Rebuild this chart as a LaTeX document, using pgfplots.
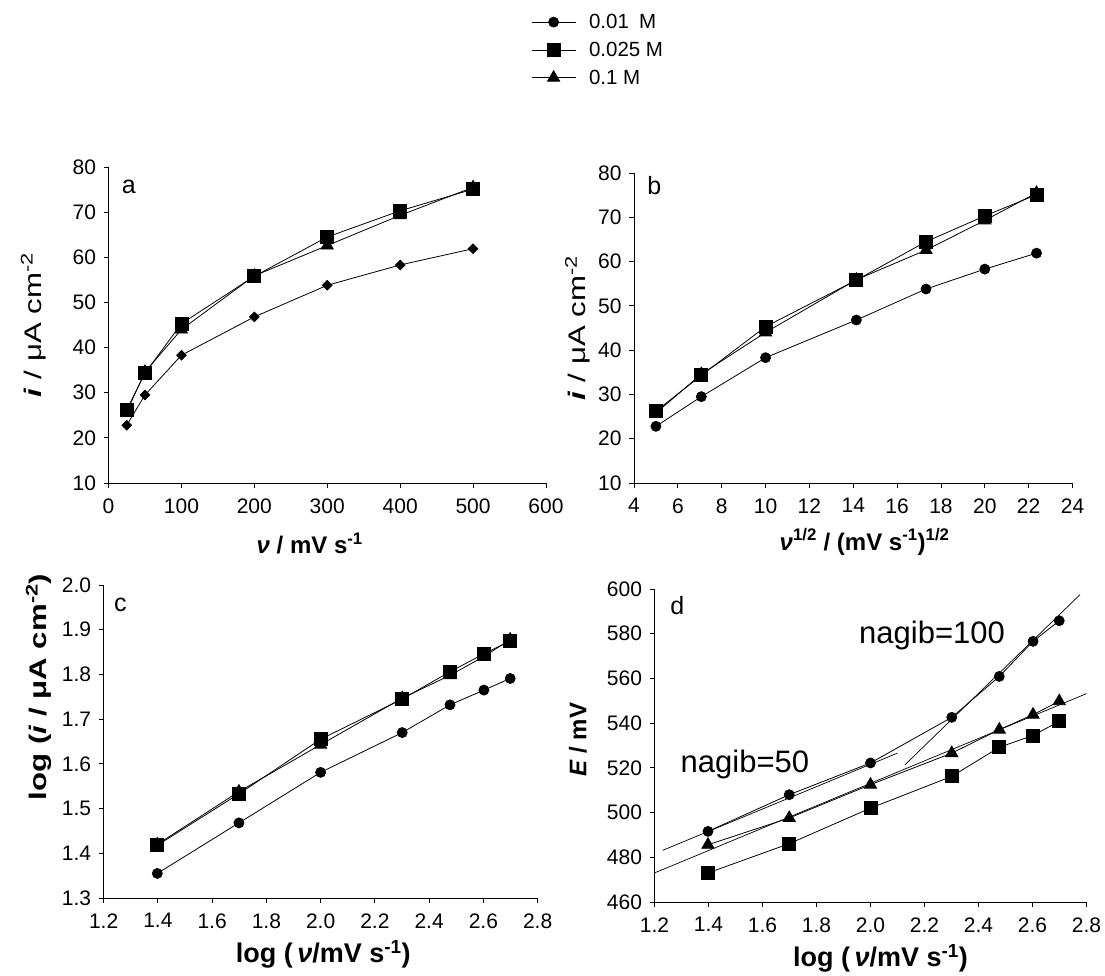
\documentclass[border=0pt]{standalone}
\usepackage{pgfplots}
\pgfplotsset{compat=1.18}
\usepackage{fontspec}
\setmainfont{Liberation Sans}
\newfontfamily\ylabfont[FakeStretch=1.3]{Liberation Sans}

\pgfplotsset{
  panel/.style={
    scale only axis,
    anchor=south west,
    axis x line*=bottom, axis y line*=left,
    axis line style={-, line width=0.8pt},
    tick align=outside,
    major tick length=5pt,
    tick style={black, line width=0.8pt},
    /pgf/number format/assume math mode=true,
    ticklabel style={font=\fontsize{21}{24}\selectfont},
    xticklabel style={yshift=-7pt},
    yticklabel style={xshift=-4pt},
    every axis plot/.append style={black, line width=0.8pt},
    clip=false,
  },
  sA/.style={mark=*, mark size=5pt},
  sAd/.style={mark=square*, mark size=3.4pt, mark options={rotate=45}},
  sB/.style={mark=square*, mark size=6.5pt},
  sC/.style={mark=triangle*, mark size=7pt},
  fitline/.style={no marks, line width=0.7pt},
}
\tikzset{letter/.style={font=\fontsize{25}{28}\selectfont, anchor=west, inner sep=0pt}}

\begin{document}
\begin{tikzpicture}
\useasboundingbox (0,0) rectangle (1105pt,-976pt);

% ---------- panel a ----------
\begin{axis}[panel,
  at={(108.5pt,-483pt)}, width=437.5pt, height=316pt,
  xmin=0, xmax=600, ymin=10, ymax=80,
  xtick={0,100,...,600}, ytick={10,20,...,80},
  xlabel={\textit{ν} / mV s\textsuperscript{-1}},
  ylabel={\textbf{\textit{i}} / μA cm\textsuperscript{-2}},
  xlabel style={font=\fontsize{24}{28}\selectfont\bfseries, at={(axis description cs:0.46,-0.19)}, anchor=center},
  ylabel style={font=\ylabfont\fontsize{24}{28}\selectfont, at={(axis description cs:-0.171,0.5)}, anchor=center},
]
\addplot[sAd] coordinates {(25,22.8)(50,29.5)(100,38.3)(200,46.8)(300,53.8)(400,58.3)(500,61.9)};
\addplot[sB] coordinates {(25,26.2)(50,34.3)(100,45.3)(200,55.8)(300,64.5)(400,70.3)(500,75.1)};
\addplot[sC] coordinates {(25,25.8)(50,34.6)(100,44.0)(200,55.9)(300,62.6)(400,69.3)(500,75.5)};
\node[letter] at (rel axis cs:0.03,0.937) {a};
\end{axis}

% ---------- panel b ----------
\begin{axis}[panel,
  at={(634pt,-483pt)}, width=438.5pt, height=310pt,
  xmin=4, xmax=24, ymin=10, ymax=80,
  xtick={4,6,...,24}, ytick={10,20,...,80},
  xlabel={\textit{ν}\textsuperscript{1/2} / (mV s\textsuperscript{-1})\textsuperscript{1/2}},
  ylabel={\textbf{\textit{i}} / μA cm\textsuperscript{-2}},
  xlabel style={font=\fontsize{24}{28}\selectfont\bfseries, at={(axis description cs:0.526,-0.19)}, anchor=center},
  ylabel style={font=\ylabfont\fontsize{24}{28}\selectfont, at={(axis description cs:-0.128,0.5)}, anchor=center},
  legend style={at={(axis description cs:-0.2417,1.397)}, anchor=west,
    draw=none, fill=none, font=\fontsize{20.5}{23}\selectfont,
    row sep=8pt, legend cell align=left},
  legend image code/.code={\draw[mark repeat=2, mark phase=2]
     plot coordinates {(0pt,0pt) (22pt,0pt) (44pt,0pt)}; \path (55pt,0pt);},
]
\addplot[sA] coordinates {(5,22.8)(7.07,29.5)(10,38.3)(14.14,46.8)(17.32,53.8)(20,58.3)(22.36,61.9)};
\addlegendentry{0.01\,\,\,M}
\addplot[sB] coordinates {(5,26.2)(7.07,34.3)(10,45.3)(14.14,55.8)(17.32,64.5)(20,70.3)(22.36,75.1)};
\addlegendentry{0.025 M}
\addplot[sC] coordinates {(5,25.8)(7.07,34.6)(10,44.0)(14.14,55.9)(17.32,62.6)(20,69.3)(22.36,75.5)};
\addlegendentry{0.1 M}
\node[letter] at (rel axis cs:0.03,0.958) {b};
\end{axis}

% ---------- panel c ----------
\begin{axis}[panel,
  at={(103.6pt,-898pt)}, width=434pt, height=313pt,
  xmin=1.2, xmax=2.8, ymin=1.3, ymax=2.0,
  xtick={1.2,1.4,1.6,1.8,2.0,2.2,2.4,2.6,2.8},
  ytick={1.3,1.4,1.5,1.6,1.7,1.8,1.9,2.0},
  xticklabel style={/pgf/number format/.cd, fixed, fixed zerofill, precision=1},
  yticklabel style={/pgf/number format/.cd, fixed, fixed zerofill, precision=1},
  xlabel={log (\,\textit{ν}/mV s\textsuperscript{-1})},
  ylabel={log (\textit{i} / μA cm\textsuperscript{-2})},
  xlabel style={font=\fontsize{27}{30}\selectfont\bfseries, at={(axis description cs:0.506,-0.18)}, anchor=center},
  ylabel style={font=\ylabfont\bfseries\fontsize{24}{28}\selectfont, at={(axis description cs:-0.149,0.674)}, anchor=center},
]
\addplot[sA] coordinates {(1.398,1.355)(1.699,1.468)(2.0,1.581)(2.301,1.670)(2.477,1.732)(2.602,1.765)(2.699,1.791)};
\addplot[sB] coordinates {(1.398,1.418)(1.699,1.533)(2.0,1.655)(2.301,1.745)(2.477,1.806)(2.602,1.846)(2.699,1.875)};
\addplot[sC] coordinates {(1.398,1.420)(1.699,1.538)(2.0,1.643)(2.301,1.747)(2.477,1.798)(2.602,1.840)(2.699,1.878)};
\node[letter] at (rel axis cs:0.024,0.936) {c};
\end{axis}

% ---------- panel d ----------
\begin{axis}[panel,
  at={(654.5pt,-902pt)}, width=432pt, height=313pt,
  xmin=1.2, xmax=2.8, ymin=460, ymax=600,
  xtick={1.2,1.4,1.6,1.8,2.0,2.2,2.4,2.6,2.8},
  ytick={460,480,...,600},
  xticklabel style={/pgf/number format/.cd, fixed, fixed zerofill, precision=1},
  xlabel={log (\,\textit{ν}/mV s\textsuperscript{-1})},
  ylabel={\textit{E} / mV},
  xlabel style={font=\fontsize{27}{30}\selectfont\bfseries, at={(axis description cs:0.523,-0.18)}, anchor=center},
  ylabel style={font=\fontsize{24}{28}\selectfont\bfseries, at={(axis description cs:-0.177,0.518)}, anchor=center},
]
\addplot[fitline] coordinates {(1.23,483.1)(2.10,526.6)};
\addplot[fitline] coordinates {(2.128,521.4)(2.776,597.5)};
\addplot[fitline] coordinates {(1.2,473.0)(2.8,553.2)};
\addplot[sA] coordinates {(1.398,491.6)(1.699,508.0)(2.0,522.2)(2.301,542.6)(2.477,560.9)(2.602,576.6)(2.699,585.8)};
\addplot[sB] coordinates {(1.398,473.0)(1.699,486.1)(2.0,502.0)(2.301,516.2)(2.477,529.2)(2.602,534.5)(2.699,540.8)};
\addplot[sC] coordinates {(1.398,485.6)(1.699,497.6)(2.0,512.5)(2.301,526.6)(2.477,537.1)(2.602,543.8)(2.699,549.8)};
\node[letter] at (rel axis cs:0.036,0.946) {d};
\node[font=\fontsize{31}{34}\selectfont] at (axis cs:2.228,579) {nagib=100};
\node[font=\fontsize{31}{34}\selectfont] at (axis cs:1.535,521.7) {nagib=50};
\end{axis}
\end{tikzpicture}
\end{document}
